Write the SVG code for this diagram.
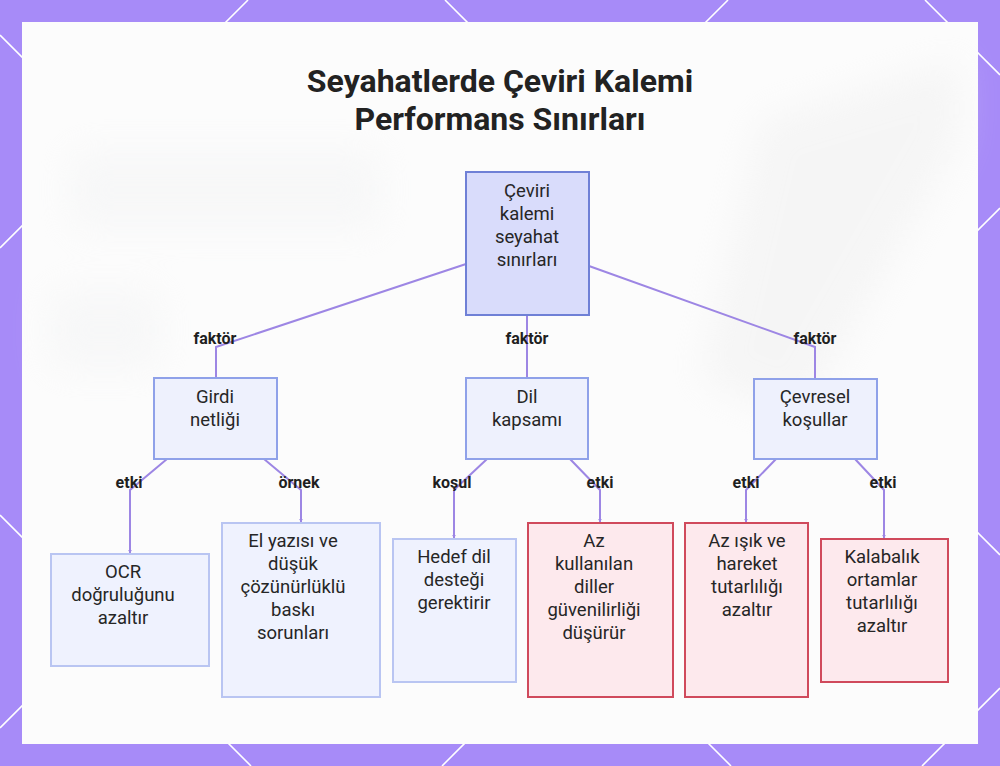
<svg xmlns="http://www.w3.org/2000/svg" width="1000" height="766" viewBox="0 0 1000 766">
<defs>
<style>
.bgline{stroke:#ffffff;stroke-width:1.6;fill:none}
.title{font-family:Roboto,"Liberation Sans",sans-serif;font-weight:700;font-size:32px;fill:#222222;text-anchor:middle}
.t{font-family:Roboto,"Liberation Sans",sans-serif;font-size:18.5px;fill:#262626;text-anchor:middle}
.lbl{font-family:Roboto,"Liberation Sans",sans-serif;font-weight:700;font-size:16px;fill:#1f1f1f;text-anchor:middle}
.root{fill:#d9dcfb;stroke:#6f80d6;stroke-width:2}
.mid{fill:#eef1fd;stroke:#8fa1e9;stroke-width:2}
.leaf{fill:#eff2fe;stroke:#b9c5f2;stroke-width:2}
.bad{fill:#fde9ed;stroke:#d04a5c;stroke-width:2}
.edge{fill:none;stroke:#9d86e4;stroke-width:2}
</style>
<marker id="ah" viewBox="0 0 6 6" refX="5" refY="3" markerWidth="1.8" markerHeight="1.8" orient="auto">
<path d="M0,0 L6,3 L0,6 z" fill="#9d86e4"/>
</marker>
<filter id="blur" x="-20%" y="-20%" width="140%" height="140%"><feGaussianBlur stdDeviation="18"/></filter>
</defs>
<rect width="1000" height="766" fill="#a78bf8"/>
<g id="bg-lines">
<line class="bgline" x1="0" y1="248" x2="248" y2="0"/>
<line class="bgline" x1="0" y1="728" x2="728" y2="0"/>
<line class="bgline" x1="442" y1="766" x2="1000" y2="208"/>
<line class="bgline" x1="922" y1="766" x2="1000" y2="688"/>
<line class="bgline" x1="0" y1="35" x2="731" y2="766"/>
<line class="bgline" x1="445" y1="0" x2="1000" y2="555"/>
<line class="bgline" x1="925" y1="0" x2="1000" y2="75"/>
<line class="bgline" x1="0" y1="515" x2="251" y2="766"/>
</g>
<rect x="22" y="22" width="956" height="722" fill="#fcfcfc"/>
<g id="bg-blur" filter="url(#blur)" opacity="0.4">
<path d="M760 120 L960 60 L960 140 L800 420 L700 380 Z" fill="#ececec"/>
<rect x="70" y="150" width="310" height="80" fill="#f0f1f2"/>
<rect x="50" y="290" width="110" height="80" fill="#f0f1f2"/>
</g>
<g id="title">
<text class="title" x="500" y="92">Seyahatlerde Çeviri Kalemi</text>
<text class="title" x="500" y="130">Performans Sınırları</text>
</g>
<g id="connectors">
<polyline class="edge" points="466,264 216,347 216,378"/>
<polyline class="edge" points="527,315 527,378"/>
<polyline class="edge" points="589,266 815,347 815,378"/>
<polyline class="edge" points="167,459 130,490 130,553" marker-end="url(#ah)"/>
<polyline class="edge" points="264,459 301,490 301,522" marker-end="url(#ah)"/>
<polyline class="edge" points="487,459 454,490 454,538" marker-end="url(#ah)"/>
<polyline class="edge" points="570,459 600,490 600,522" marker-end="url(#ah)"/>
<polyline class="edge" points="776,459 746,490 746,522" marker-end="url(#ah)"/>
<polyline class="edge" points="855,459 884,490 884,538" marker-end="url(#ah)"/>
<text class="lbl" x="215" y="344">faktör</text>
<text class="lbl" x="527" y="344">faktör</text>
<text class="lbl" x="815" y="344">faktör</text>
<text class="lbl" x="129" y="488">etki</text>
<text class="lbl" x="299" y="488">örnek</text>
<text class="lbl" x="452" y="488">koşul</text>
<text class="lbl" x="600" y="488">etki</text>
<text class="lbl" x="746" y="488">etki</text>
<text class="lbl" x="883" y="488">etki</text>
</g>
<g id="root">
<rect class="root" x="466" y="172" width="123" height="143"/>
<text class="t" x="527" y="197">Çeviri</text>
<text class="t" x="527" y="220">kalemi</text>
<text class="t" x="527" y="243">seyahat</text>
<text class="t" x="527" y="266">sınırları</text>
</g>
<g id="girdi">
<rect class="mid" x="154" y="378" width="123" height="81"/>
<text class="t" x="215" y="403">Girdi</text>
<text class="t" x="215" y="426">netliği</text>
</g>
<g id="dil">
<rect class="mid" x="466" y="378" width="122" height="81"/>
<text class="t" x="527" y="403">Dil</text>
<text class="t" x="527" y="426">kapsamı</text>
</g>
<g id="cevresel">
<rect class="mid" x="754" y="379" width="123" height="80"/>
<text class="t" x="815" y="403">Çevresel</text>
<text class="t" x="815" y="426">koşullar</text>
</g>
<g id="ocr">
<rect class="leaf" x="51" y="554" width="158" height="112"/>
<text class="t" x="123" y="578">OCR</text>
<text class="t" x="123" y="601">doğruluğunu</text>
<text class="t" x="123" y="624">azaltır</text>
</g>
<g id="elyazisi">
<rect class="leaf" x="222" y="523" width="158" height="174"/>
<text class="t" x="293" y="547">El yazısı ve</text>
<text class="t" x="293" y="570">düşük</text>
<text class="t" x="293" y="593">çözünürlüklü</text>
<text class="t" x="293" y="616">baskı</text>
<text class="t" x="293" y="639">sorunları</text>
</g>
<g id="hedef">
<rect class="leaf" x="393" y="539" width="123" height="143"/>
<text class="t" x="454" y="563">Hedef dil</text>
<text class="t" x="454" y="586">desteği</text>
<text class="t" x="454" y="609">gerektirir</text>
</g>
<g id="azkullanilan">
<rect class="bad" x="528" y="523" width="145" height="174"/>
<text class="t" x="594" y="547">Az</text>
<text class="t" x="594" y="570">kullanılan</text>
<text class="t" x="594" y="593">diller</text>
<text class="t" x="594" y="616">güvenilirliği</text>
<text class="t" x="594" y="639">düşürür</text>
</g>
<g id="azisik">
<rect class="bad" x="685" y="523" width="123" height="174"/>
<text class="t" x="747" y="547">Az ışık ve</text>
<text class="t" x="747" y="570">hareket</text>
<text class="t" x="747" y="593">tutarlılığı</text>
<text class="t" x="747" y="616">azaltır</text>
</g>
<g id="kalabalik">
<rect class="bad" x="821" y="539" width="127" height="143"/>
<text class="t" x="882" y="563">Kalabalık</text>
<text class="t" x="882" y="586">ortamlar</text>
<text class="t" x="882" y="609">tutarlılığı</text>
<text class="t" x="882" y="632">azaltır</text>
</g>
</svg>
